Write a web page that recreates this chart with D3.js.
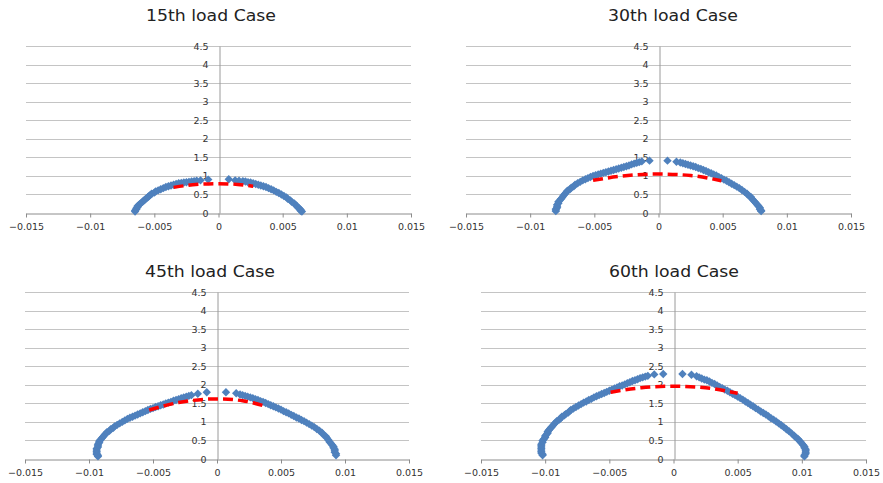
<!DOCTYPE html>
<html>
<head>
<meta charset="utf-8">
<script src="https://cdn.jsdelivr.net/npm/d3@7"></script>
<style>
  html, body { margin: 0; padding: 0; background: #fff; }
  svg { display: block; }
</style>
</head>
<body>
<svg id="chart" width="883" height="483"></svg>
<script>
// Axis ticks
const xTicks = [-0.015, -0.01, -0.005, 0, 0.005, 0.01, 0.015];
const yTicks = [0, 0.5, 1, 1.5, 2, 2.5, 3, 3.5, 4, 4.5];
const titles = ["15th load Case", "30th load Case", "45th load Case", "60th load Case"];

// 15th load case
const case15Left = [
  [-0.0065, 0.04], [-0.0065, 0.07], [-0.0064, 0.10], [-0.0064, 0.13], [-0.0063, 0.16],
  [-0.0063, 0.19], [-0.0062, 0.22], [-0.0061, 0.25], [-0.0060, 0.28], [-0.0059, 0.31],
  [-0.0058, 0.34], [-0.0057, 0.37], [-0.0056, 0.40], [-0.0055, 0.43], [-0.0054, 0.46],
  [-0.0053, 0.49], [-0.0052, 0.52], [-0.0050, 0.55], [-0.0049, 0.58], [-0.0047, 0.61],
  [-0.0045, 0.64], [-0.0043, 0.67], [-0.0041, 0.70], [-0.0039, 0.72], [-0.0037, 0.74],
  [-0.0035, 0.76], [-0.0033, 0.78], [-0.0031, 0.80], [-0.0029, 0.81], [-0.0027, 0.82],
  [-0.0025, 0.83], [-0.0023, 0.84], [-0.0021, 0.85], [-0.0019, 0.86], [-0.0017, 0.87],
  [-0.0014, 0.88], [-0.0008, 0.90]
];
const case15Right = [
  [0.0008, 0.91], [0.0013, 0.88], [0.0016, 0.87], [0.0019, 0.86], [0.0021, 0.85],
  [0.0023, 0.83], [0.0025, 0.82], [0.0027, 0.80], [0.0029, 0.78], [0.0031, 0.76],
  [0.0033, 0.74], [0.0035, 0.72], [0.0037, 0.70], [0.0039, 0.67], [0.0041, 0.64],
  [0.0043, 0.61], [0.0045, 0.57], [0.0047, 0.54], [0.0049, 0.50], [0.0051, 0.46],
  [0.0053, 0.42], [0.0054, 0.38], [0.0056, 0.34], [0.0057, 0.30], [0.0059, 0.26],
  [0.0060, 0.22], [0.0061, 0.18], [0.0062, 0.15], [0.0063, 0.12], [0.0064, 0.09],
  [0.0064, 0.06], [0.0065, 0.04]
];
const case15Fit = [[-0.0035, 0.69], [-0.002, 0.76], [0, 0.79], [0.0015, 0.77], [0.0027, 0.72]];

// 30th load case
const case30Left = [
  [-0.0080, 0.05], [-0.0080, 0.08], [-0.0080, 0.11], [-0.0079, 0.14], [-0.0079, 0.18],
  [-0.0079, 0.22], [-0.0078, 0.26], [-0.0078, 0.30], [-0.0077, 0.34], [-0.0076, 0.38],
  [-0.0075, 0.42], [-0.0074, 0.47], [-0.0073, 0.51], [-0.0072, 0.55], [-0.0071, 0.60],
  [-0.0069, 0.64], [-0.0068, 0.68], [-0.0066, 0.72], [-0.0065, 0.76], [-0.0063, 0.80],
  [-0.0061, 0.84], [-0.0059, 0.88], [-0.0057, 0.91], [-0.0055, 0.94], [-0.0053, 0.97],
  [-0.0051, 1.00], [-0.0049, 1.02], [-0.0047, 1.04], [-0.0045, 1.06], [-0.0043, 1.08],
  [-0.0041, 1.10], [-0.0039, 1.12], [-0.0037, 1.14], [-0.0035, 1.16], [-0.0033, 1.18],
  [-0.0031, 1.20], [-0.0029, 1.22], [-0.0027, 1.24], [-0.0025, 1.26], [-0.0023, 1.28],
  [-0.0021, 1.31], [-0.0019, 1.33], [-0.0017, 1.35], [-0.0015, 1.37], [-0.0013, 1.39],
  [-0.0007, 1.41]
];
const case30Right = [
  [0.0007, 1.41], [0.0014, 1.38], [0.0017, 1.36], [0.0019, 1.34], [0.0021, 1.32],
  [0.0023, 1.30], [0.0025, 1.28], [0.0027, 1.26], [0.0029, 1.24], [0.0031, 1.21],
  [0.0033, 1.19], [0.0035, 1.16], [0.0037, 1.13], [0.0039, 1.10], [0.0041, 1.07],
  [0.0043, 1.04], [0.0045, 1.01], [0.0047, 0.97], [0.0049, 0.94], [0.0051, 0.90],
  [0.0053, 0.87], [0.0055, 0.83], [0.0057, 0.79], [0.0059, 0.75], [0.0061, 0.71],
  [0.0063, 0.67], [0.0065, 0.62], [0.0067, 0.57], [0.0069, 0.52], [0.0070, 0.48],
  [0.0072, 0.43], [0.0073, 0.38], [0.0074, 0.34], [0.0075, 0.30], [0.0076, 0.26],
  [0.0077, 0.22], [0.0078, 0.18], [0.0079, 0.14], [0.0079, 0.10], [0.0080, 0.07],
  [0.0080, 0.05]
];
const case30Fit = [[-0.0051, 0.88], [-0.003, 0.99], [0, 1.05], [0.0025, 1.01], [0.0049, 0.87]];

// 45th load case
const case45Left = [
  [-0.0093, 0.07], [-0.0093, 0.10], [-0.0094, 0.13], [-0.0094, 0.16], [-0.0094, 0.20],
  [-0.0094, 0.24], [-0.0094, 0.28], [-0.0093, 0.32], [-0.0093, 0.36], [-0.0093, 0.40],
  [-0.0092, 0.44], [-0.0092, 0.48], [-0.0091, 0.52], [-0.0090, 0.56], [-0.0089, 0.60],
  [-0.0088, 0.64], [-0.0087, 0.68], [-0.0086, 0.72], [-0.0084, 0.76], [-0.0083, 0.80],
  [-0.0081, 0.84], [-0.0080, 0.88], [-0.0078, 0.92], [-0.0076, 0.96], [-0.0074, 1.00],
  [-0.0072, 1.04], [-0.0070, 1.08], [-0.0068, 1.11], [-0.0066, 1.14], [-0.0064, 1.17],
  [-0.0062, 1.20], [-0.0060, 1.23], [-0.0058, 1.26], [-0.0056, 1.29], [-0.0054, 1.32],
  [-0.0052, 1.35], [-0.0050, 1.37], [-0.0048, 1.40], [-0.0046, 1.42], [-0.0044, 1.45],
  [-0.0042, 1.47], [-0.0040, 1.50], [-0.0038, 1.52], [-0.0036, 1.54], [-0.0034, 1.57],
  [-0.0032, 1.59], [-0.0030, 1.61], [-0.0028, 1.64], [-0.0026, 1.66], [-0.0024, 1.68],
  [-0.0022, 1.70], [-0.0020, 1.72], [-0.0015, 1.76], [-0.0008, 1.80]
];
const case45Right = [
  [0.0007, 1.80], [0.0015, 1.77], [0.0018, 1.74], [0.0020, 1.72], [0.0022, 1.70],
  [0.0024, 1.68], [0.0026, 1.66], [0.0028, 1.64], [0.0030, 1.61], [0.0032, 1.59],
  [0.0034, 1.56], [0.0036, 1.54], [0.0038, 1.51], [0.0040, 1.48], [0.0042, 1.45],
  [0.0044, 1.42], [0.0046, 1.39], [0.0048, 1.36], [0.0050, 1.33], [0.0052, 1.29],
  [0.0054, 1.26], [0.0056, 1.23], [0.0058, 1.19], [0.0060, 1.16], [0.0062, 1.12],
  [0.0064, 1.09], [0.0066, 1.05], [0.0068, 1.02], [0.0070, 0.98], [0.0072, 0.94],
  [0.0074, 0.90], [0.0076, 0.86], [0.0078, 0.81], [0.0080, 0.76], [0.0082, 0.71],
  [0.0083, 0.66], [0.0085, 0.61], [0.0086, 0.56], [0.0087, 0.51], [0.0088, 0.46],
  [0.0089, 0.42], [0.0090, 0.38], [0.0091, 0.34], [0.0091, 0.30], [0.0092, 0.26],
  [0.0092, 0.22], [0.0092, 0.18], [0.0093, 0.14], [0.0093, 0.10]
];
const case45Fit = [[-0.0053, 1.32], [-0.003, 1.52], [0, 1.62], [0.002, 1.57], [0.0038, 1.42]];

// 60th load case
const case60Left = [
  [-0.0102, 0.10], [-0.0102, 0.13], [-0.0103, 0.16], [-0.0103, 0.20], [-0.0103, 0.24],
  [-0.0103, 0.28], [-0.0103, 0.32], [-0.0103, 0.36], [-0.0103, 0.40], [-0.0102, 0.45],
  [-0.0102, 0.50], [-0.0101, 0.54], [-0.0100, 0.58], [-0.0100, 0.62], [-0.0099, 0.66],
  [-0.0098, 0.70], [-0.0098, 0.74], [-0.0097, 0.78], [-0.0096, 0.82], [-0.0095, 0.86],
  [-0.0094, 0.90], [-0.0093, 0.94], [-0.0092, 0.98], [-0.0091, 1.02], [-0.0089, 1.06],
  [-0.0088, 1.10], [-0.0087, 1.14], [-0.0085, 1.18], [-0.0084, 1.21], [-0.0082, 1.25],
  [-0.0081, 1.29], [-0.0080, 1.32], [-0.0078, 1.36], [-0.0076, 1.40], [-0.0074, 1.44],
  [-0.0072, 1.48], [-0.0070, 1.52], [-0.0068, 1.55], [-0.0066, 1.59], [-0.0064, 1.62],
  [-0.0062, 1.66], [-0.0060, 1.69], [-0.0058, 1.72], [-0.0056, 1.75], [-0.0054, 1.78],
  [-0.0052, 1.81], [-0.0050, 1.84], [-0.0048, 1.87], [-0.0046, 1.90], [-0.0044, 1.93],
  [-0.0042, 1.96], [-0.0040, 1.98], [-0.0038, 2.01], [-0.0036, 2.04], [-0.0034, 2.07],
  [-0.0032, 2.10], [-0.0030, 2.12], [-0.0028, 2.15], [-0.0026, 2.18], [-0.0024, 2.20],
  [-0.0022, 2.22], [-0.0020, 2.24], [-0.0015, 2.28], [-0.0008, 2.29]
];
const case60Right = [
  [0.0007, 2.29], [0.0014, 2.27], [0.0018, 2.23], [0.0020, 2.20], [0.0022, 2.17],
  [0.0024, 2.14], [0.0026, 2.12], [0.0028, 2.09], [0.0030, 2.05], [0.0032, 2.02],
  [0.0034, 1.98], [0.0036, 1.94], [0.0038, 1.91], [0.0040, 1.87], [0.0042, 1.84],
  [0.0044, 1.80], [0.0046, 1.76], [0.0048, 1.72], [0.0050, 1.68], [0.0052, 1.64],
  [0.0054, 1.60], [0.0056, 1.55], [0.0058, 1.51], [0.0060, 1.46], [0.0062, 1.42],
  [0.0064, 1.37], [0.0066, 1.33], [0.0068, 1.28], [0.0070, 1.24], [0.0072, 1.20],
  [0.0074, 1.15], [0.0076, 1.10], [0.0078, 1.06], [0.0080, 1.01], [0.0082, 0.96],
  [0.0084, 0.91], [0.0086, 0.86], [0.0088, 0.80], [0.0090, 0.75], [0.0092, 0.69],
  [0.0094, 0.63], [0.0095, 0.59], [0.0097, 0.54], [0.0098, 0.50], [0.0099, 0.46],
  [0.0100, 0.42], [0.0101, 0.38], [0.0102, 0.34], [0.0102, 0.30], [0.0103, 0.26],
  [0.0103, 0.22], [0.0103, 0.18], [0.0103, 0.14], [0.0102, 0.10], [0.0102, 0.07]
];
const case60Fit = [[-0.0049, 1.80], [-0.0025, 1.92], [0, 1.96], [0.0025, 1.92], [0.005, 1.77]];

// Panel layout (pixel boxes of each plot area)
const panels = [
  { title: titles[0], left: 26, right: 411, top: 46, bottom: 213, tx: 211, ty: 21, pts: [case15Left, case15Right], fit: case15Fit },
  { title: titles[1], left: 466, right: 851, top: 46, bottom: 213, tx: 673, ty: 21, pts: [case30Left, case30Right], fit: case30Fit },
  { title: titles[2], left: 25, right: 409, top: 292, bottom: 459, tx: 210, ty: 277, pts: [case45Left, case45Right], fit: case45Fit },
  { title: titles[3], left: 481, right: 866, top: 292, bottom: 459, tx: 674, ty: 277, pts: [case60Left, case60Right], fit: case60Fit },
];

const $svg = d3.select("#chart");
const font = "'DejaVu Sans', sans-serif";
const blue = "#4f81bd";

panels.forEach(p => {
  const x = d3.scaleLinear().domain([-0.015, 0.015]).range([p.left, p.right]);
  const y = d3.scaleLinear().domain([0, 4.5]).range([p.bottom, p.top]);
  const $g = $svg.append("g");

  // Title
  $g.append("text")
    .attr("x", p.tx)
    .attr("y", p.ty)
    .attr("text-anchor", "middle")
    .attr("font-family", font)
    .attr("font-size", 15)
    .attr("fill", "#222")
    .attr("textLength", 130)
    .attr("lengthAdjust", "spacingAndGlyphs")
    .text(p.title);

  // Horizontal grid
  $g.append("g")
    .selectAll("line")
    .data(yTicks.filter(d => d > 0))
    .join("line")
      .attr("x1", p.left)
      .attr("x2", p.right)
      .attr("y1", d => Math.round(y(d)) + 0.5)
      .attr("y2", d => Math.round(y(d)) + 0.5)
      .attr("stroke", "#c4c4c4");

  // X axis
  const xAxis = d3.axisBottom(x)
    .tickValues(xTicks)
    .tickSizeInner(4)
    .tickSizeOuter(0)
    .tickPadding(6)
    .tickFormat(d => d3.format("")(+d.toFixed(3)));
  const $x = $g.append("g")
    .attr("transform", `translate(0,${Math.round(y(0)) + 0.5})`)
    .call(xAxis);
  $x.select(".domain").attr("stroke", "#8c8c8c");
  $x.selectAll(".tick line").attr("stroke", "#8c8c8c");
  $x.selectAll(".tick text")
    .attr("font-family", font)
    .attr("font-size", 9.5)
    .attr("fill", "#333");

  // Y axis (vertical line at x = 0)
  const yAxis = d3.axisLeft(y)
    .tickValues(yTicks)
    .tickSize(0)
    .tickPadding(11)
    .tickFormat(d3.format(""));
  const $y = $g.append("g")
    .attr("transform", `translate(${Math.round(x(0)) + 0.5},0)`)
    .call(yAxis);
  $y.select(".domain").attr("stroke", "#9a9a9a");
  $y.selectAll(".tick text")
    .attr("font-family", font)
    .attr("font-size", 9.5)
    .attr("fill", "#333");

  // Measured points (diamonds)
  const diamond = "M0,-4.2L4.2,0L0,4.2L-4.2,0Z";
  p.pts.forEach(branch => {
    $g.append("g")
      .selectAll("path")
      .data(branch)
      .join("path")
        .attr("d", diamond)
        .attr("transform", d => `translate(${x(d[0])},${y(d[1])})`)
        .attr("fill", blue);
  });

  // Fitted curve (red dashed)
  const line = d3.line()
    .x(d => x(d[0]))
    .y(d => y(d[1]))
    .curve(d3.curveMonotoneX);
  $g.append("path")
    .datum(p.fit)
    .attr("d", line)
    .attr("fill", "none")
    .attr("stroke", "#ff0000")
    .attr("stroke-width", 3.5)
    .attr("stroke-dasharray", "10,5");
});
</script>
</body>
</html>
